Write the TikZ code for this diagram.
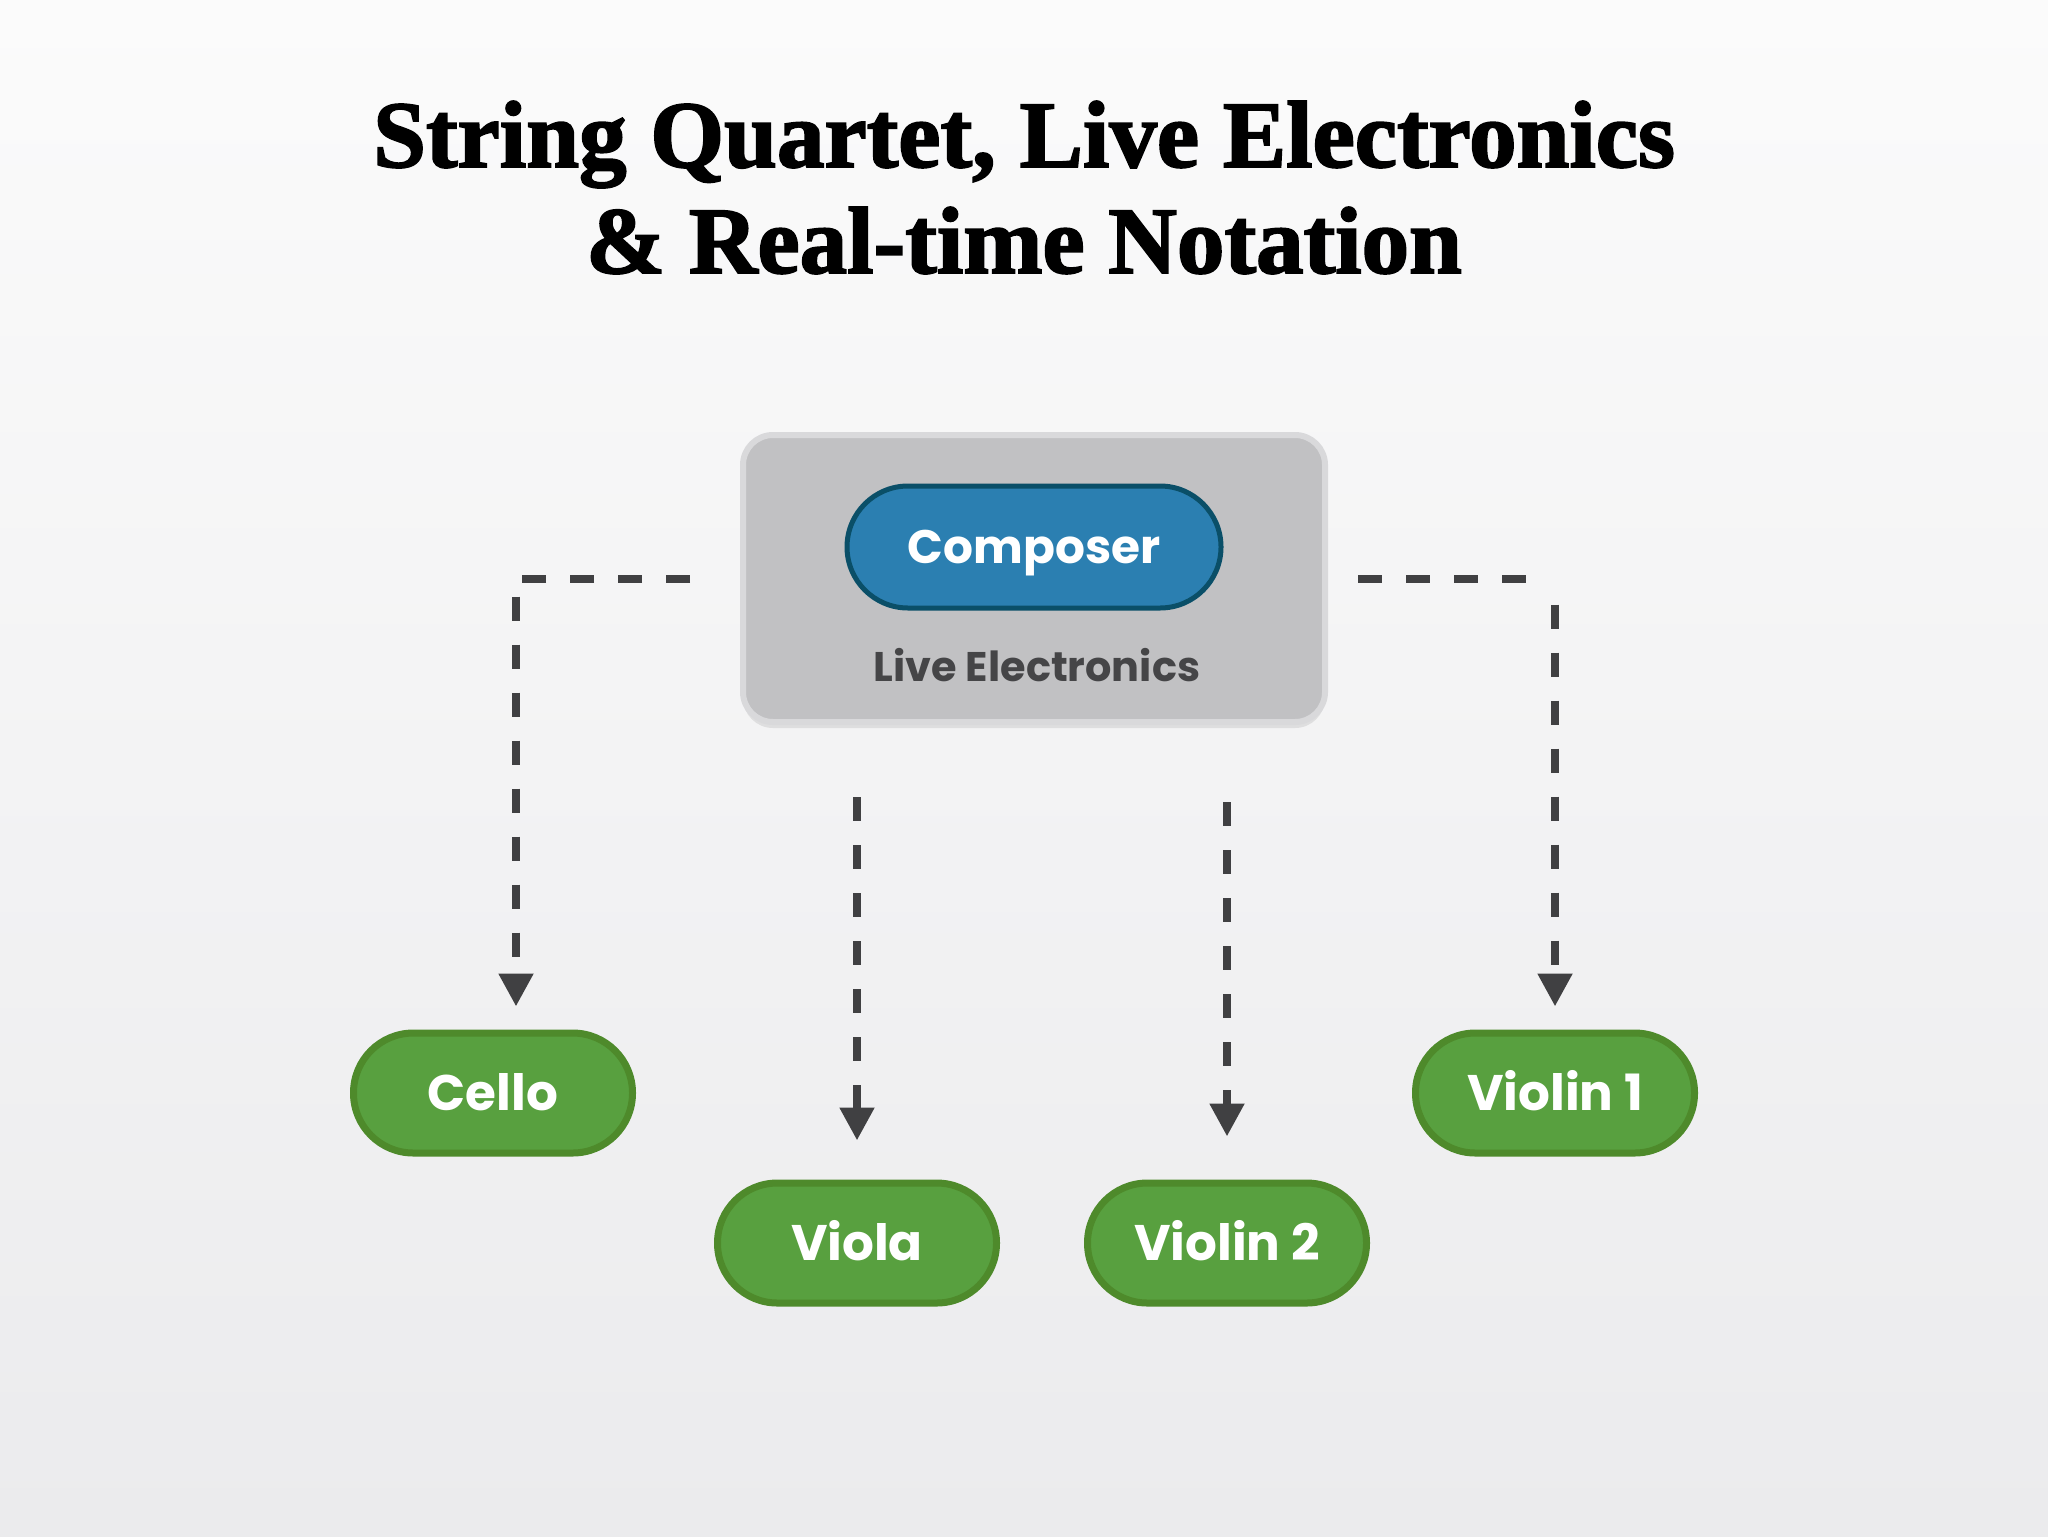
\documentclass[tikz,border=0pt]{standalone}
\usepackage{fontspec}
\setmainfont{Liberation Serif}
\newfontfamily\titlefont{Liberation Serif Bold}[FakeBold=2]
\newfontfamily\lblfont{Poppins}
\usetikzlibrary{arrows.meta,shadows,calc}
\definecolor{bgtop}{HTML}{FBFBFB}
\definecolor{bgbot}{HTML}{EBEBED}
\definecolor{boxfill}{HTML}{C1C1C3}
\definecolor{boxline}{HTML}{D9D9DB}
\definecolor{compfill}{HTML}{2B7FB1}
\definecolor{compline}{HTML}{0A4F68}
\definecolor{grfill}{HTML}{58A03F}
\definecolor{grline}{HTML}{4E8A2B}
\definecolor{darktext}{HTML}{454547}
\definecolor{dashc}{HTML}{404042}
\begin{document}
\begin{tikzpicture}[x=0.5pt,y=-0.5pt,
  titletext/.style={font=\titlefont\fontsize{47.5}{50}\selectfont, text=black, inner sep=0pt, anchor=base},
  panel/.style={rectangle, rounded corners=15pt, fill=boxfill, draw=boxline, line width=3pt,
    minimum width=291pt, minimum height=143.5pt, inner sep=0pt,
    drop shadow={opacity=0.18, shadow xshift=0pt, shadow yshift=-3pt}},
  pillblue/.style={rectangle, rounded corners=30.5pt, fill=compfill, draw=compline, line width=2.5pt,
    minimum width=187pt, minimum height=61pt, inner sep=0pt, text=white,
    font=\lblfont\bfseries\fontsize{23.5}{26}\selectfont, text height=16.5pt, text depth=0pt},
  pillgreen/.style={rectangle, rounded corners=29.9pt, fill=grfill, draw=grline, line width=3.5pt,
    minimum width=139.5pt, minimum height=60pt, inner sep=0pt, text=white,
    font=\lblfont\bfseries\fontsize{25}{28}\selectfont, text height=17.5pt, text depth=0pt},
  sublabel/.style={text=darktext, inner sep=0pt, font=\lblfont\bfseries\fontsize{20.7}{23}\selectfont,
    text height=14.5pt, text depth=0pt},
  conn/.style={draw=dashc, line width=4pt, dash pattern=on 12pt off 12pt,
    -{Triangle[width=16.5pt,length=16.5pt]}},
  elbowdash/.style={dash pattern=on 12pt off 12pt on 12pt off 12pt on 12pt off 12pt on 12pt off 27.5pt
    on 12pt off 12pt on 12pt off 12pt on 12pt off 12pt on 12pt off 12pt
    on 12pt off 12pt on 12pt off 12pt on 12pt off 12pt on 12pt off 12pt on 12pt off 12pt}
]
\useasboundingbox (0,0) rectangle (2048,1536);
\shade[top color=bgtop, bottom color=bgbot] (0,0) rectangle (2048,1536);

\node[titletext] (t1) at (1024,167) {String Quartet, Live Electronics};
\node[titletext] (t2) at (1024,273) {\& Real-time Notation};

\node[panel] (box) at (1034,578.5) {};
\node[pillblue] (comp) at (1034,547) {Composer};
\node[sublabel] (le) at (1037,667) {Live Electronics};

\node[pillgreen] (cello) at (493,1093) {Cello};
\node[pillgreen] (violinone) at (1555,1093) {Violin 1};
\node[pillgreen] (viola) at (857,1243) {Viola};
\node[pillgreen] (violintwo) at (1227,1243) {Violin 2};

\coordinate (cin) at ($(cello.north)+(23,0)$);
\coordinate (vas) at (viola.north |- box.south);
\coordinate (vts) at (violintwo.north |- box.south);

\draw[conn] ([xshift=-25pt]box.west) -| ([yshift=11.5pt]cin);
\draw[conn, elbowdash] ([xshift=15pt]box.east) -| ([yshift=11.5pt]violinone.north);
\draw[conn] ([yshift=-36pt]vas) -- ([yshift=19.5pt]viola.north);
\draw[conn] ([yshift=-38.5pt]vts) -- ([yshift=21.5pt]violintwo.north);
\end{tikzpicture}
\end{document}
